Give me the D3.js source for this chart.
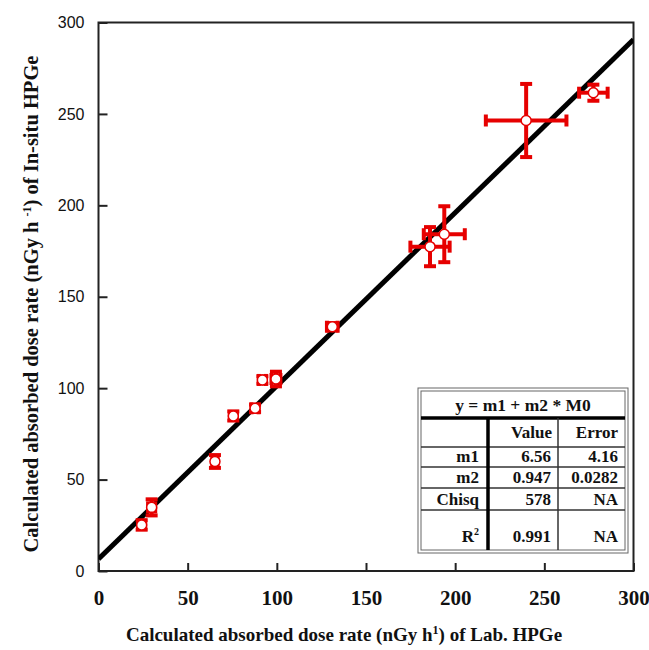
<!DOCTYPE html>
<html>
<head>
<meta charset="utf-8">
<script src="https://cdn.jsdelivr.net/npm/d3@7"></script>
<style>
  body { margin: 0; background: #fff; }
  svg { display: block; }
</style>
</head>
<body>
<svg id="chart" width="649" height="650"></svg>
<script>
// measured points (Lab. HPGe vs In-situ HPGe), with error bars
const labDose = [24.2, 29.8, 65.3, 75.6, 87.8, 91.9, 99.5, 131.1, 185.9, 193.9, 239.8, 277.5];
const insituDose = [25.2, 34.8, 59.9, 84.8, 89, 104.5, 105, 133.6, 177.4, 184.2, 246.4, 261.6];
const labErr = [2, 2, 1.5, 2, 2, 2, 2.5, 3, 11, 11.5, 22.6, 8];
const insituErr = [2.6, 4.4, 3.5, 2.5, 2, 2, 4, 2, 10.7, 15.3, 20, 4.4];

// fit y = m1 + m2 * M0
const fitRows = ["m1", "m2", "Chisq", "R2"];
const fitValues = ["6.56", "0.947", "578", "0.991"];
const fitErrors = ["4.16", "0.0282", "NA", "NA"];
const m1 = 6.56, m2 = 0.947;

const xTicks = [0, 50, 100, 150, 200, 250, 300];
const yTicks = [0, 50, 100, 150, 200, 250, 300];

const RED = "#e60000";
const MARGIN = { LEFT: 98.5, TOP: 22.5, RIGHT: 15.5, BOTTOM: 79 };
const WIDTH = 649 - MARGIN.LEFT - MARGIN.RIGHT;
const HEIGHT = 650 - MARGIN.TOP - MARGIN.BOTTOM;

const svg = d3.select("#chart");
const g = svg.append("g").attr("transform", `translate(${MARGIN.LEFT},${MARGIN.TOP})`);

const x = d3.scaleLinear().domain([0, 300]).range([0, WIDTH]);
const y = d3.scaleLinear().domain([0, 300]).range([HEIGHT, 0]);

// clip for the fit line
svg.append("defs").append("clipPath").attr("id", "plot-clip")
  .append("rect").attr("width", WIDTH).attr("height", HEIGHT);

// axes, ticks inward
const xAxis = g.append("g")
  .attr("transform", `translate(0,${HEIGHT})`)
  .call(d3.axisBottom(x).tickValues(xTicks).tickSize(-8).tickPadding(19));
xAxis.selectAll("text")
  .style("font-family", "'Liberation Serif', 'Times New Roman', serif")
  .style("font-weight", "bold")
  .style("font-size", "21px")
  .attr("fill", "#111");

const yAxis = g.append("g")
  .call(d3.axisLeft(y).tickValues(yTicks).tickSize(-9).tickPadding(14));
yAxis.selectAll("text")
  .style("font-family", "'Liberation Sans', Arial, sans-serif")
  .style("font-size", "16px")
  .attr("fill", "#111");

[xAxis, yAxis].forEach((a) => {
  a.select(".domain").remove();
  a.selectAll(".tick line").attr("stroke", "#222").attr("stroke-width", 2);
});

// frame
g.append("rect")
  .attr("width", WIDTH)
  .attr("height", HEIGHT)
  .attr("fill", "none")
  .attr("stroke", "#222")
  .attr("stroke-width", 2);

// fit line
const fitLine = d3.line().x((d) => x(d)).y((d) => y(m1 + m2 * d));
g.append("path")
  .datum([0, 300])
  .attr("clip-path", "url(#plot-clip)")
  .attr("d", fitLine)
  .attr("fill", "none")
  .attr("stroke", "#000")
  .attr("stroke-width", 5);

// error bars + markers
const points = labDose.map((v, i) => ({
  x: v, y: insituDose[i], ex: labErr[i], ey: insituErr[i]
}));
const CAP = 6;
const pts = g.append("g").selectAll("g").data(points).join("g");

pts.append("line")
  .attr("x1", (d) => x(d.x - d.ex)).attr("x2", (d) => x(d.x + d.ex))
  .attr("y1", (d) => y(d.y)).attr("y2", (d) => y(d.y));
pts.append("line")
  .attr("x1", (d) => x(d.x)).attr("x2", (d) => x(d.x))
  .attr("y1", (d) => y(d.y - d.ey)).attr("y2", (d) => y(d.y + d.ey));
// caps
[-1, 1].forEach((s) => {
  pts.append("line")
    .attr("x1", (d) => x(d.x + s * d.ex)).attr("x2", (d) => x(d.x + s * d.ex))
    .attr("y1", (d) => y(d.y) - CAP).attr("y2", (d) => y(d.y) + CAP);
  pts.append("line")
    .attr("x1", (d) => x(d.x) - CAP).attr("x2", (d) => x(d.x) + CAP)
    .attr("y1", (d) => y(d.y + s * d.ey)).attr("y2", (d) => y(d.y + s * d.ey));
});
pts.selectAll("line").attr("stroke", RED).attr("stroke-width", 4);

pts.append("circle")
  .attr("cx", (d) => x(d.x))
  .attr("cy", (d) => y(d.y))
  .attr("r", 5)
  .attr("fill", "#fff")
  .attr("stroke", RED)
  .attr("stroke-width", 1.5);

// axis titles
const serif = "'Liberation Serif', 'Times New Roman', serif";
const xTitle = svg.append("text")
  .attr("x", 344)
  .attr("y", 641)
  .attr("text-anchor", "middle")
  .style("font-family", serif)
  .style("font-weight", "bold")
  .style("font-size", "19px")
  .attr("fill", "#111");
xTitle.append("tspan").text("Calculated absorbed dose rate (nGy h");
xTitle.append("tspan").attr("dy", -7).style("font-size", "12px").text("1");
xTitle.append("tspan").attr("dy", 7).text(") of Lab. HPGe");

const yTitle = svg.append("text")
  .attr("transform", "translate(38,304) rotate(-90)")
  .attr("text-anchor", "middle")
  .style("font-family", serif)
  .style("font-weight", "bold")
  .style("font-size", "20.5px")
  .attr("fill", "#111");
yTitle.append("tspan").text("Calculated absorbed dose rate (nGy h ");
yTitle.append("tspan").attr("dy", -7).style("font-size", "12px").text("-1");
yTitle.append("tspan").attr("dy", 7).text(") of In-situ HPGe");

// fit results table
const T = { X0: 418, X1: 488, X2: 558, X3: 628 };
const rowEdges = [388, 418, 447, 467, 488, 510, 553];
const tbl = svg.append("g");
tbl.append("rect")
  .attr("x", T.X0).attr("y", rowEdges[0])
  .attr("width", T.X3 - T.X0).attr("height", rowEdges[6] - rowEdges[0])
  .attr("fill", "#fff").attr("stroke", "#666").attr("stroke-width", 1);
tbl.append("rect")
  .attr("x", T.X0 + 3).attr("y", rowEdges[0] + 3)
  .attr("width", T.X3 - T.X0 - 6).attr("height", rowEdges[6] - rowEdges[0] - 6)
  .attr("fill", "none").attr("stroke", "#666").attr("stroke-width", 1);
// thick line below title row
tbl.append("line")
  .attr("x1", T.X0 + 3).attr("x2", T.X3 - 3)
  .attr("y1", rowEdges[1]).attr("y2", rowEdges[1])
  .attr("stroke", "#000").attr("stroke-width", 3.5);
// row separators
rowEdges.slice(2, 6).forEach((ry) => {
  tbl.append("line")
    .attr("x1", T.X0 + 3).attr("x2", T.X3 - 3)
    .attr("y1", ry).attr("y2", ry)
    .attr("stroke", "#333").attr("stroke-width", 1.5);
});
// column separators
tbl.append("line")
  .attr("x1", T.X1).attr("x2", T.X1)
  .attr("y1", rowEdges[1]).attr("y2", rowEdges[6] - 3)
  .attr("stroke", "#000").attr("stroke-width", 3.5);
tbl.append("line")
  .attr("x1", T.X2).attr("x2", T.X2)
  .attr("y1", rowEdges[1]).attr("y2", rowEdges[6] - 3)
  .attr("stroke", "#333").attr("stroke-width", 1.5);

const cellText = (tx, ty, anchor, size) => tbl.append("text")
  .attr("x", tx).attr("y", ty)
  .attr("text-anchor", anchor)
  .style("font-family", serif)
  .style("font-weight", "bold")
  .style("font-size", size || "17px")
  .attr("fill", "#111");

cellText((T.X0 + T.X3) / 2, 411, "middle", "17.5px").text("y = m1 + m2 * M0");
cellText(T.X2 - 6, 438, "end").text("Value");
cellText(T.X3 - 10, 438, "end").text("Error");

const rowBase = [462, 483, 505, 542];
fitRows.forEach((r, i) => {
  const t = cellText(T.X1 - 9, rowBase[i], "end");
  if (r === "R2") {
    t.append("tspan").text("R");
    t.append("tspan").attr("dy", -7).style("font-size", "10px").text("2");
  } else {
    t.text(r);
  }
  cellText(T.X2 - 7, rowBase[i], "end").text(fitValues[i]);
  cellText(T.X3 - 10, rowBase[i], "end").text(fitErrors[i]);
});
</script>
</body>
</html>
